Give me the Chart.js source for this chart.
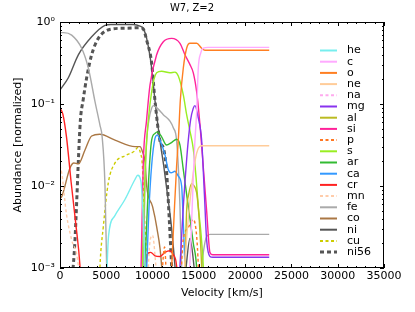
<!DOCTYPE html>
<html>
<head>
<meta charset="utf-8">
<script src="https://cdn.jsdelivr.net/npm/chart.js@4.4.0/dist/chart.umd.min.js"></script>
<style>
html, body { margin: 0; padding: 0; background: #fff; }
</style>
</head>
<body>
<canvas id="abund" width="415" height="312"></canvas>
<script>
// [velocity km/s, abundance]
const he = [[5000,0.0004],[5100,0.0011],[5250,0.0025],[5900,0.0043],[7000,0.0068],[8100,0.012],[8400,0.0135],[8750,0.0112],[8950,0.005],[9200,0.001],[9350,0.0004]];
const c = [[13900,0.0005],[14200,0.0032],[14400,0.0126],[14550,0.0316],[14760,0.0794],[14940,0.275],[15200,0.417],[15480,0.479],[16000,0.49],[22600,0.49]];
const o = [[11950,0.0005],[12100,0.00126],[12350,0.005],[12600,0.0178],[12800,0.0398],[13000,0.112],[13320,0.275],[13680,0.479],[14040,0.55],[14760,0.55],[15300,0.479],[15660,0.452],[22600,0.452]];
const ne = [[13200,0.0004],[13700,0.0025],[14220,0.01],[14760,0.0251],[15300,0.0309],[22600,0.0309]];
const na = [[14000,0.0002],[15000,0.0004],[16000,0.0002]];
const mg = [[12800,0.0004],[12960,0.00105],[13320,0.0056],[13680,0.0209],[13860,0.0363],[14100,0.0631],[14400,0.0891],[14580,0.0955],[14940,0.0676],[15300,0.0363],[15600,0.0079],[15840,0.0022],[16200,0.00138],[16500,0.00135],[22600,0.00135]];
const al = [[13300,0.0004],[13500,0.00105],[13680,0.005],[13900,0.0079],[14220,0.0107],[14500,0.01],[14760,0.0083],[15000,0.0045],[15120,0.0027],[15300,0.00105],[15400,0.0004]];
const si = [[8700,0.0005],[8850,0.0032],[9000,0.02],[9350,0.0631],[9720,0.17],[10440,0.398],[11160,0.575],[12060,0.631],[12960,0.55],[13500,0.398],[14040,0.302],[14400,0.24],[14760,0.141],[15120,0.0562],[15500,0.0158],[15840,0.005],[16200,0.00155],[16500,0.00145],[22600,0.00145]];
const p = [[10900,0.0005],[11300,0.0018],[11600,0.0005],[12900,0.0005],[13310,0.0022],[13850,0.0031],[14400,0.0039],[14760,0.00245],[14940,0.00105],[15050,0.0004]];
const s = [[8800,0.0005],[9000,0.0032],[9200,0.0158],[9360,0.0355],[9900,0.141],[10440,0.24],[10980,0.251],[11880,0.24],[12420,0.245],[12780,0.219],[13320,0.129],[13680,0.0741],[14040,0.0468],[14400,0.0282],[14700,0.0126],[14940,0.0056],[15250,0.0025],[15480,0.00105],[15600,0.0005]];
const ar = [[9000,0.0004],[9180,0.00105],[9540,0.01],[9900,0.0363],[10260,0.0437],[10500,0.0457],[10980,0.0398],[11500,0.0316],[12050,0.0339],[12600,0.0372],[12960,0.0316],[13320,0.0158],[13680,0.0079],[14040,0.004],[14400,0.002],[14760,0.001],[14900,0.0004]];
const ca = [[9200,0.0004],[9400,0.00126],[9600,0.005],[9900,0.0178],[10260,0.038],[10500,0.0417],[10800,0.0363],[11340,0.024],[11700,0.0158],[12000,0.0145],[12420,0.0151],[12780,0.0132],[13140,0.01],[13320,0.0035],[13500,0.00105],[13600,0.0004]];
const cr = [[0,0.0891],[300,0.0759],[700,0.0398],[1200,0.0112],[1700,0.0035],[2160,0.00105],[2300,0.0005],[9150,0.0004],[9300,0.00112],[9500,0.00151],[9800,0.00155],[10260,0.00141],[10800,0.00138],[11340,0.00155],[11880,0.00162],[12240,0.00145],[12600,0.00105],[12750,0.0004]];
const mn = [[0,0.0178],[200,0.0141],[700,0.0045],[1260,0.0022],[1980,0.00105],[2200,0.0004],[9300,0.0004],[9700,0.002],[10000,0.0025],[10300,0.00126],[10600,0.0004]];
const fe = [[0,0.741],[400,0.741],[1260,0.692],[2340,0.479],[3060,0.275],[3780,0.107],[4320,0.055],[4550,0.04],[4860,0.01],[5040,0.00105],[5150,0.0003],[8900,0.0003],[9050,0.002],[9200,0.012],[9360,0.0355],[9600,0.0631],[9900,0.0891],[10080,0.0955],[10500,0.0891],[11160,0.0741],[11880,0.0617],[12240,0.0513],[12600,0.0355],[12960,0.0056],[13140,0.00105],[13300,0.0003],[15000,0.0005],[15500,0.0016],[15830,0.0024],[16200,0.00257],[22600,0.00257]];
const co = [[0,0.0071],[180,0.0074],[1080,0.0166],[1500,0.0191],[1980,0.0186],[2700,0.0275],[3420,0.0407],[4300,0.0427],[5940,0.0363],[8100,0.0302],[8640,0.0302],[8900,0.0263],[9200,0.019],[9360,0.01],[10000,0.0056],[10440,0.0032],[10980,0.00105],[11150,0.0004]];
const ni = [[0,0.148],[900,0.209],[1980,0.398],[3420,0.661],[4860,0.912],[5500,0.933],[7900,0.933],[8640,0.891],[9000,0.83],[9360,0.631],[9900,0.275],[10260,0.11],[10800,0.0355],[11200,0.0178],[11600,0.008],[12000,0.0035],[12400,0.00112],[12700,0.0004],[13500,0.0008],[14040,0.0023],[14600,0.0008],[15200,0.0003]];
const cu = [[4200,0.0004],[4320,0.00105],[4680,0.0032],[5220,0.011],[5940,0.0191],[7020,0.0234],[8100,0.0269],[8400,0.0295],[8700,0.0251],[8900,0.0178],[9100,0.005],[9300,0.0016],[9450,0.0005]];
const ni56 = [[1350,0.0008],[1600,0.002],[1800,0.0063],[2000,0.0224],[2200,0.0631],[2500,0.112],[2880,0.209],[3420,0.398],[4140,0.631],[5580,0.822],[7200,0.841],[8640,0.851],[9000,0.82],[9360,0.6],[9900,0.316],[10260,0.11],[10800,0.0355],[11200,0.0282],[11520,0.0145],[11800,0.004],[12060,0.00105],[12250,0.0004]];

const species = ['he','c','o','ne','na','mg','al','si','p','s','ar','ca','cr','mn','fe','co','ni','cu','ni56'];
const series = [he, c, o, ne, na, mg, al, si, p, s, ar, ca, cr, mn, fe, co, ni, cu, ni56];
const colors = ['#77eeee','#ffaaff','#ff7f22','#ffcc99','#ffaaee','#8833ee','#bbbb22','#ff2299','#ff7722','#99ee22','#33bb33','#3399ff','#ff2222','#ffccaa','#aaaaaa','#aa7744','#555555','#cccc00','#555555'];
const dashed = ['na','p','mn','cu','ni56'];
const yTickLabels = {1: '10\u2070', 0.1: '10\u207b\u00b9', 0.01: '10\u207b\u00b2', 0.001: '10\u207b\u00b3'};

const FONT = '"DejaVu Sans", sans-serif';

const datasets = species.map((name, i) => ({
    label: name,
    data: series[i].map(pt => ({x: pt[0], y: pt[1]})),
    borderColor: colors[i],
    borderWidth: name === 'ni56' ? 3 : 1.4,
    borderDash: name === 'ni56' ? [4, 3] : (dashed.includes(name) ? [3, 2.5] : []),
    pointRadius: 0,
    fill: false,
    cubicInterpolationMode: 'monotone'
}));

// matplotlib-style box with inward ticks
const frameTicks = {
    id: 'frameTicks',
    afterDraw(chart) {
        const {ctx, chartArea: a, scales} = chart;
        ctx.save();
        ctx.strokeStyle = '#000';
        ctx.lineWidth = 1;
        ctx.strokeRect(Math.round(a.left) + 0.5, Math.round(a.top) + 0.5,
            Math.round(a.right - a.left) - 1, Math.round(a.bottom - a.top) - 1);
        ctx.beginPath();
        for (let v = 0; v <= 35000; v += 1000) {
            const px = Math.round(scales.x.getPixelForValue(v)) + 0.5;
            const len = v % 5000 === 0 ? 4 : 2;
            ctx.moveTo(px, a.bottom); ctx.lineTo(px, a.bottom - len);
            ctx.moveTo(px, a.top); ctx.lineTo(px, a.top + len);
        }
        [0.001, 0.01, 0.1].forEach(d => {
            for (let m = 1; m <= 10; m++) {
                const py = Math.round(scales.y.getPixelForValue(m * d)) + 0.5;
                const len = (m === 1 || m === 10) ? 4 : 2;
                ctx.moveTo(a.left, py); ctx.lineTo(a.left + len, py);
                ctx.moveTo(a.right, py); ctx.lineTo(a.right - len, py);
            }
        });
        ctx.stroke();
        ctx.restore();
    }
};

const legendBox = {
    id: 'legendBox',
    afterDraw(chart) {
        const ctx = chart.ctx;
        const a = chart.chartArea;
        ctx.save();
        ctx.font = '11px ' + FONT;
        ctx.textBaseline = 'middle';
        ctx.fillStyle = '#000';
        chart.data.datasets.forEach((ds, i) => {
            const yy = a.top + 28.5 + i * 11.2;
            ctx.strokeStyle = ds.borderColor;
            ctx.lineWidth = ds.label === 'ni56' ? 3 : 2;
            ctx.setLineDash(ds.borderDash);
            ctx.beginPath();
            ctx.moveTo(a.right - 64, yy);
            ctx.lineTo(a.right - 47, yy);
            ctx.stroke();
            ctx.setLineDash([]);
            ctx.fillText(ds.label, a.right - 37, yy);
        });
        ctx.restore();
    }
};

new Chart(document.getElementById('abund'), {
    type: 'line',
    data: {datasets: datasets},
    options: {
        responsive: false,
        animation: false,
        layout: {padding: {left: 0, right: 31, top: 0, bottom: 0}},
        plugins: {
            legend: {display: false},
            tooltip: {enabled: false},
            title: {
                display: true,
                text: 'W7, Z=2',
                color: '#000',
                font: {family: FONT, size: 10, weight: 'normal'},
                padding: {top: 2, bottom: 8}
            }
        },
        scales: {
            x: {
                type: 'linear',
                min: 0,
                max: 35000,
                grid: {display: false, drawTicks: false},
                border: {display: false},
                ticks: {
                    stepSize: 5000,
                    maxRotation: 0,
                    padding: 2,
                    color: '#000',
                    font: {family: FONT, size: 11},
                    callback: v => String(v)
                },
                title: {
                    display: true,
                    text: 'Velocity [km/s]',
                    color: '#000',
                    font: {family: FONT, size: 11},
                    padding: {top: 0, bottom: 12}
                },
                afterFit(scale) { scale.height = 44; }
            },
            y: {
                type: 'logarithmic',
                min: 0.001,
                max: 1,
                grid: {display: false, drawTicks: false},
                border: {display: false},
                afterBuildTicks(scale) {
                    scale.ticks = [0.001, 0.01, 0.1, 1].map(v => ({value: v}));
                },
                ticks: {
                    padding: 5,
                    color: '#000',
                    font: {family: FONT, size: 11},
                    callback: v => yTickLabels[v] || ''
                },
                title: {
                    display: true,
                    text: 'Abundance [normalized]',
                    color: '#000',
                    font: {family: FONT, size: 11},
                    padding: {top: 12, bottom: 0}
                },
                afterFit(scale) { scale.width = 60; }
            }
        }
    },
    plugins: [frameTicks, legendBox]
});
</script>
</body>
</html>
